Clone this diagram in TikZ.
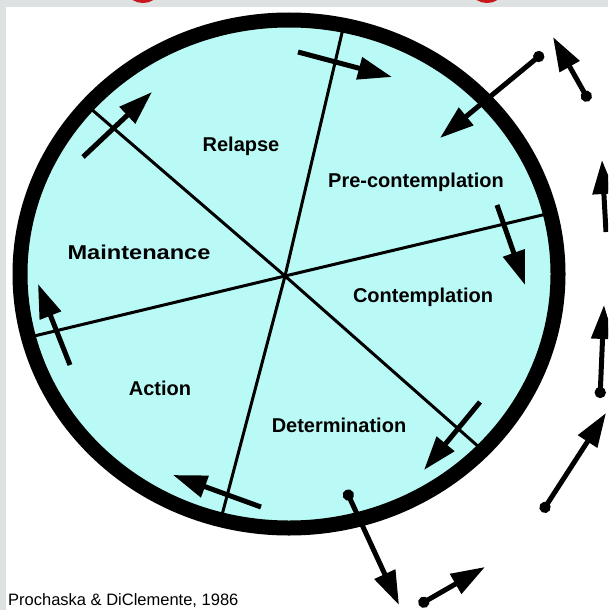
\documentclass[tikz,border=0pt]{standalone}
\usepackage{fontspec}
\usepackage{graphicx}
\setmainfont{Liberation Sans}
\usetikzlibrary{arrows.meta}
\definecolor{wheelfill}{RGB}{186,250,246}
\definecolor{framegray}{RGB}{222,225,225}
\definecolor{titlered}{RGB}{200,24,30}

\begin{document}
\begin{tikzpicture}[x=1pt, y=-1pt,
    stage/.style={font=\fontsize{20}{24}\selectfont\bfseries, inner sep=0pt},
    divider/.style={line width=3pt},
    cyclearrow/.style={line width=5pt, -{Triangle[length=34pt,width=22pt]}},
    exitarrow/.style={line width=5pt, {Circle[length=11pt]}-{Triangle[length=34pt,width=22pt]}}]
  \useasboundingbox (0,0) rectangle (608,610);
  \clip (0,0) rectangle (608,610);
  \fill[framegray] (0,0) rectangle (608,610);
  \fill[white] (6,7) rectangle (608,610);
  % bits of the red title above the frame
  \draw[titlered, line width=4pt] (143,-8) ellipse [x radius=13, y radius=9];
  \draw[titlered, line width=4pt] (487,-8) ellipse [x radius=13, y radius=9];
  % the wheel
  \fill[wheelfill] (289,274) ellipse [x radius=269, y radius=254];
  \coordinate (hub) at (285,276);
  \foreach \n/\x/\y in {ta/345/20, tb/222/515, ma/90/108, mb/480/448, la/30/337, lb/555/212}
    \coordinate (\n) at (\x,\y);
  \draw[divider] (ta) -- (hub) -- (tb);
  \draw[divider] (ma) -- (hub) -- (mb);
  \draw[divider] (la) -- (hub) -- (lb);
  \draw[line width=15pt] (289,274) ellipse [x radius=269, y radius=254];
  % stage names
  \node[stage] (relapse) at (241,146) {Relapse};
  \node[stage] (precon) at (416,182) {Pre-contemplation};
  \node[stage] (maint) at (139,252) {\scalebox{1.18}[1]{Maintenance}};
  \node[stage] (contem) at (423,297) {Contemplation};
  \node[stage] (action) at (160,388) {Action};
  \node[stage] (determ) at (339,425) {Determination};
  % arrows round the wheel
  \foreach \n/\x/\y in {ra/298/52, rb/392/77, pa/497/205, pb/525/285,
      ca/480/402, cb/424/470, da/261/507, db/173/475,
      aa/70/365, ab/38/284, xa/83/157, xb/152/92}
    \coordinate (\n) at (\x,\y);
  \foreach \s/\e in {ra/rb, pa/pb, ca/cb, da/db, aa/ab, xa/xb}
    \draw[cyclearrow] (\s) -- (\e);
  % arrows in and out
  \foreach \n/\x/\y in {ia/543/53, ib/440/138, oa/589/101, ob/553/37,
      sa/606/232, sb/602/160, ua/600/398, ub/604/305,
      va/346/490, vb/399/605, wa/419/605, wb/485/567, za/542/512, zb/606/413}
    \coordinate (\n) at (\x,\y);
  \foreach \s/\e in {ia/ib, oa/ob, ua/ub, va/vb, wa/wb, za/zb}
    \draw[exitarrow] (\s) -- (\e);
  \draw[cyclearrow] (sa) -- (sb);
  \node[font=\fontsize{16.5}{20}\selectfont, anchor=west, inner sep=0pt] (credit) at (8,601) {Prochaska \& DiClemente, 1986};
\end{tikzpicture}
\end{document}
